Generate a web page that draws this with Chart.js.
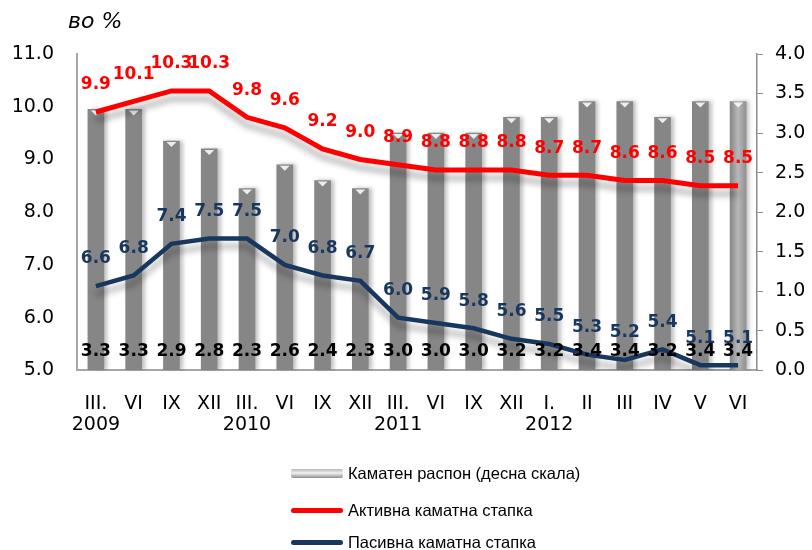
<!DOCTYPE html>
<html>
<head>
<meta charset="utf-8">
<script src="https://cdn.jsdelivr.net/npm/chart.js@4"></script>
<style>
  body { margin: 0; background: #fff; }
  #wrap { position: relative; width: 812px; height: 550px; }
  #unit { position: absolute; left: 68px; top: 8px; font: italic 22px "DejaVu Sans"; color: #000; }
  .leg { position: absolute; left: 291px; height: 20px; display: flex; align-items: center;
         font: 16.5px "Liberation Sans"; color: #000; }
  .sym { width: 52px; margin-right: 5px; }
</style>
</head>
<body>
<div id="wrap">
  <canvas id="myChart" width="812" height="550"></canvas>
  <div id="unit">во %</div>
  <div class="leg" style="top:463px"><div class="sym" style="height:9px;border-radius:2px;background:linear-gradient(#b5b5b5,#f2f2f2 45%,#8c8c8c)"></div>Каматен распон (десна скала)</div>
  <div class="leg" style="top:500px"><div class="sym" style="height:5px;border-radius:3px;background:#ff0000"></div>Активна каматна стапка</div>
  <div class="leg" style="top:532px"><div class="sym" style="height:5px;border-radius:3px;background:#17375e"></div>Пасивна каматна стапка</div>
</div>
<script>
  const labels = [['III.', '2009'], 'VI', 'IX', 'XII', ['III.', '2010'], 'VI', 'IX', 'XII',
    ['III.', '2011'], 'VI', 'IX', 'XII', ['I.', '2012'], 'II', 'III', 'IV', 'V', 'VI'];
  const spread = [3.3, 3.3, 2.9, 2.8, 2.3, 2.6, 2.4, 2.3, 3.0, 3.0, 3.0, 3.2, 3.2, 3.4, 3.4, 3.2, 3.4, 3.4];
  const lending = [9.9, 10.1, 10.3, 10.3, 9.8, 9.6, 9.2, 9.0, 8.9, 8.8, 8.8, 8.8, 8.7, 8.7, 8.6, 8.6, 8.5, 8.5];
  const deposit = [6.6, 6.8, 7.4, 7.5, 7.5, 7.0, 6.8, 6.7, 6.0, 5.9, 5.8, 5.6, 5.5, 5.3, 5.2, 5.4, 5.1, 5.1];

  // gradient bars + soft shadows under the series
  const styling = {
    id: 'styling',
    beforeDatasetDraw(chart, args) {
      const c = chart.ctx;
      const meta = args.meta;
      c.save();
      if (meta.type === 'bar') {
        meta.data.forEach(el => {
          const g = c.createLinearGradient(el.x - el.width / 2, 0, el.x + el.width / 2, 0);
          g.addColorStop(0, '#868686');
          g.addColorStop(0.5, '#b8b8b8');
          g.addColorStop(1, '#909090');
          el.options.backgroundColor = g;
        });
        c.shadowColor = 'rgba(0,0,0,0.25)';
        c.shadowBlur = 4;
        c.shadowOffsetX = 3;
      } else {
        c.shadowColor = 'rgba(0,0,0,0.3)';
        c.shadowBlur = 6;
        c.shadowOffsetY = 8;
      }
    },
    afterDatasetDraw(chart, args) {
      const c = chart.ctx;
      c.restore();
      if (args.meta.type === 'bar') {
        // little light notch on top of each cylinder
        c.save();
        c.fillStyle = 'rgba(255,255,255,0.85)';
        args.meta.data.forEach(el => {
          c.beginPath();
          c.moveTo(el.x - 5, el.y + 1);
          c.lineTo(el.x + 5, el.y + 1);
          c.lineTo(el.x, el.y + 6);
          c.closePath();
          c.fill();
        });
        c.restore();
      }
    }
  };

  const valueLabels = {
    id: 'valueLabels',
    afterDatasetsDraw(chart) {
      const c = chart.ctx;
      c.save();
      c.font = 'bold 17px "DejaVu Sans"';
      c.textAlign = 'center';
      c.textBaseline = 'middle';
      chart.data.datasets.forEach((ds, i) => {
        const meta = chart.getDatasetMeta(i);
        meta.data.forEach((el, j) => {
          const y = meta.type === 'bar' ? chart.scales.y1.bottom - 19 : el.y - 27;
          c.fillStyle = ds.labelColor;
          c.fillText(ds.data[j].toFixed(1), el.x, y);
        });
      });
      c.restore();
    }
  };

  const ctx = document.getElementById('myChart');

  new Chart(ctx, {
    type: 'bar',
    data: {
      labels: labels,
      datasets: [{
        type: 'line',
        label: 'Активна каматна стапка',
        data: lending,
        yAxisID: 'y',
        borderColor: '#ff0000',
        borderWidth: 5,
        pointRadius: 0,
        labelColor: '#ff0000',
        order: 1,
      }, {
        type: 'line',
        label: 'Пасивна каматна стапка',
        data: deposit,
        yAxisID: 'y',
        borderColor: '#17375e',
        borderWidth: 4.5,
        pointRadius: 0,
        labelColor: '#17375e',
        order: 2,
      }, {
        label: 'Каматен распон (десна скала)',
        data: spread,
        yAxisID: 'y1',
        backgroundColor: '#a0a0a0',
        barThickness: 16,
        labelColor: '#000',
        order: 3,
      }],
    },
    plugins: [styling, valueLabels],
    options: {
      responsive: false,
      animation: false,
      layout: { padding: { left: 10, right: 0, top: 54, bottom: 99 } },
      plugins: { legend: { display: false }, tooltip: { enabled: false } },
      scales: {
        x: {
          grid: { display: false },
          border: { color: '#a6a6a6', width: 2 },
          ticks: { font: { family: 'DejaVu Sans', size: 19, lineHeight: 1.12 }, color: '#000', padding: 15, maxRotation: 0, autoSkip: false }
        },
        y: {
          position: 'left',
          min: 5, max: 11,
          afterFit: s => { s.width = 67; },
          grid: { display: false },
          border: { color: '#a6a6a6', width: 2 },
          ticks: { stepSize: 1, font: { family: 'DejaVu Sans', size: 19 }, color: '#000', padding: 15,
                   callback: v => v.toFixed(1) }
        },
        y1: {
          position: 'right',
          min: 0, max: 4,
          afterFit: s => { s.width = 55; },
          grid: { drawOnChartArea: false, color: '#8c8c8c', tickLength: 6 },
          border: { color: '#8c8c8c', width: 1.5 },
          ticks: { stepSize: 0.5, font: { family: 'DejaVu Sans', size: 19 }, color: '#000', padding: 12,
                   callback: v => v.toFixed(1) }
        }
      }
    }
  });
</script>
</body>
</html>
